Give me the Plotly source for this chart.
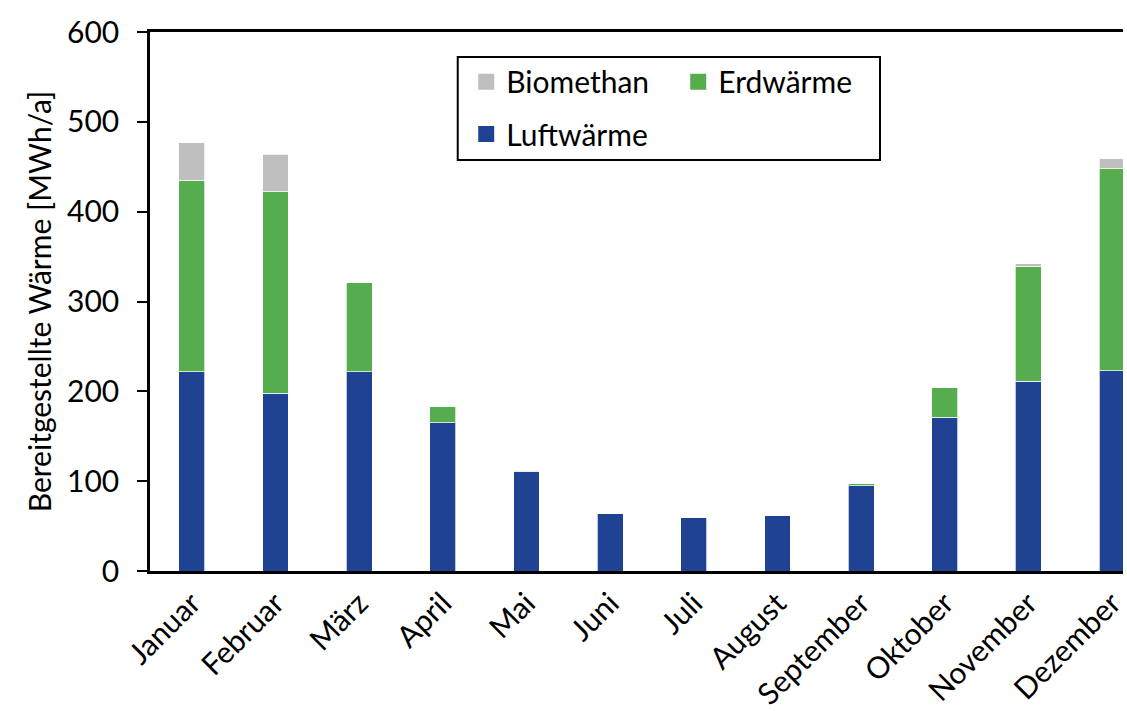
import plotly.graph_objects as go

# Monthly heat supply by source [MWh/a]
monate = ["Januar", "Februar", "März", "April", "Mai", "Juni",
          "Juli", "August", "September", "Oktober", "November", "Dezember"]
luftwaerme = [222, 198, 222, 165, 111, 64, 60, 62, 95, 171, 211, 223]
erdwaerme = [213, 224, 99, 18, 1, 0, 0, 0, 2, 33, 128, 225]
biomethan = [42, 42, 0, 0, 0, 0, 0, 0, 0, 0, 3, 11]

FARBE_LUFT = "#1F4392"
FARBE_ERD = "#55AD4E"
FARBE_BIO = "#BFBFBF"
SCHRIFT = "Lato, Open Sans, sans-serif"
GROESSE = 30

fig = go.Figure()

serien = [("Luftwärme", luftwaerme, FARBE_LUFT),
          ("Erdwärme", erdwaerme, FARBE_ERD),
          ("Biomethan", biomethan, FARBE_BIO)]
for name, werte, farbe in serien:
    fig.add_trace(go.Bar(
        x=monate, y=werte, name=name, showlegend=False,
        marker=dict(color=farbe, line=dict(color="rgba(255,255,255,0.7)", width=1)),
        width=0.31,
    ))

# legend entries with larger square swatches
legende = [("Biomethan", FARBE_BIO, "legend"),
           ("Erdwärme", FARBE_ERD, "legend"),
           ("Luftwärme", FARBE_LUFT, "legend2")]
for name, farbe, leg in legende:
    fig.add_trace(go.Scatter(
        x=[None], y=[None], mode="markers", name=name, legend=leg,
        marker=dict(symbol="square", size=18, color=farbe),
    ))

fig.update_layout(
    barmode="stack",
    width=1127, height=711,
    margin=dict(l=150, r=0, t=32, b=140),
    paper_bgcolor="white", plot_bgcolor="white",
    font=dict(family=SCHRIFT, size=GROESSE, color="black"),
    legend=dict(
        orientation="h", x=0.325, y=0.956, xanchor="left", yanchor="top",
        entrywidth=167, entrywidthmode="pixels", traceorder="normal",
        font=dict(family=SCHRIFT, size=GROESSE, color="black"),
        bgcolor="rgba(0,0,0,0)", itemsizing="trace",
    ),
    legend2=dict(
        orientation="h", x=0.325, y=0.859, xanchor="left", yanchor="top",
        traceorder="normal",
        font=dict(family=SCHRIFT, size=GROESSE, color="black"),
        bgcolor="rgba(0,0,0,0)", itemsizing="trace",
    ),
    shapes=[dict(
        type="rect", xref="paper", yref="paper",
        x0=(459 - 150) / 977, x1=(883 - 150) / 977,
        y0=(571 - 160) / 539, y1=(571 - 57) / 539,
        line=dict(color="black", width=2), fillcolor="white", layer="below",
    )],
)

fig.update_xaxes(
    range=[-0.5, 11.13],
    showline=True, linecolor="black", linewidth=2.5, mirror=True,
    ticks="", tickangle=-45, showgrid=False,
    tickfont=dict(family=SCHRIFT, size=GROESSE, color="black"),
)
fig.update_yaxes(
    range=[0, 600], dtick=100,
    showline=True, linecolor="black", linewidth=2.5, mirror=False,
    ticks="outside", ticklen=10, tickwidth=2, tickcolor="black",
    ticklabelstandoff=12,
    showgrid=False, zeroline=False,
    tickfont=dict(family=SCHRIFT, size=GROESSE, color="black"),
    title=dict(text="Bereitgestellte Wärme [MWh/a]", standoff=7,
               font=dict(family=SCHRIFT, size=GROESSE, color="black")),
)

fig.write_html("out.html")
